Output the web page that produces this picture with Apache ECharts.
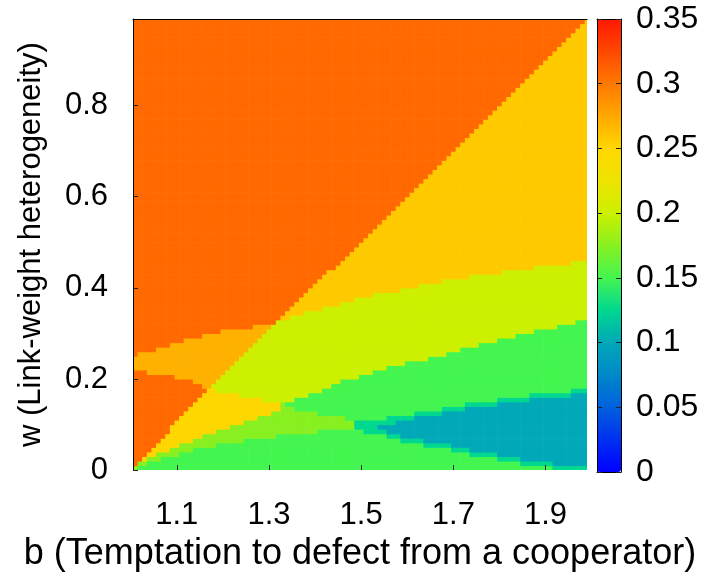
<!DOCTYPE html>
<html><head><meta charset="utf-8">
<script src="https://cdn.jsdelivr.net/npm/echarts@6/dist/echarts.min.js"></script>
<style>html,body{margin:0;padding:0;background:#fff}#c{width:710px;height:577px}</style>
</head><body><div id="c"></div>
<script>
// ---- axis ticks ----
const xTicks = [1.1, 1.3, 1.5, 1.7, 1.9];
const yTicks = [0, 0.2, 0.4, 0.6, 0.8];
const colorbarTicks = [0, 0.05, 0.1, 0.15, 0.2, 0.25, 0.3, 0.35];
const colorbarColors = ['#0000FF','#0030F0','#0060DD','#0088C8','#00A8B8','#00D890','#44F550',
  '#88F020','#CCF000','#EEE400','#FFD700','#FFA800','#FF7800','#FF4800','#FF1800'];

// ---- sampling grid of the simulation (cell centres) ----
const bFirst = 1.01, bStep = 0.01, bCount = 99;
const wFirst = 0.005, wStep = 0.01, wCount = 99;

// ---- phase regions: [b, w] vertices, painted in order ----
const backgroundValue = 0.15;
const lightGreenBand = [[1.0,0.0],[1.0,0.1],[1.3168,0.16],[1.3602,0.1318],[1.4324,0.1209],[1.4903,0.1099],[1.50,0.1027],[1.4903,0.0874],[1.4107,0.0852],[1.3239,0.0765],[1.2371,0.0634],[1.1504,0.0481],[1.0853,0.0306],[1.0202,0.0087],[1.01,0.0]];
const lightGreenValue = 0.175;
const tealEdge = [[1.489,0.109],[1.53,0.110],[1.60,0.122],[1.66,0.133],[1.72,0.144],[1.80,0.155],[1.87,0.165],[1.95,0.174],[2.0,0.179],[2.0,-0.002],[1.9409,0.0],[1.888,0.009],[1.8294,0.018],[1.7796,0.027],[1.724,0.038],[1.6776,0.049],[1.6277,0.056],[1.5772,0.067],[1.5409,0.080],[1.489,0.088]];
const tealEdgeValue = 0.125;
const tealRegion = [[1.535,0.094],[1.5409,0.097],[1.60,0.112],[1.66,0.123],[1.72,0.134],[1.80,0.145],[1.87,0.155],[1.95,0.164],[2.0,0.169],[2.0,0.008],[1.9409,0.0103],[1.888,0.019],[1.8294,0.0278],[1.7796,0.0372],[1.724,0.0481],[1.6776,0.059],[1.6277,0.0662],[1.5772,0.0771],[1.5409,0.090]];
const tealValue = 0.1;
const yellowGreenRegion = [[1.1655,0.179],[1.322,0.328],[2.0,1.0],[2.0,0.334],[1.99,0.332],[1.903,0.3103],[1.7796,0.2819],[1.671,0.252],[1.5626,0.2266],[1.4541,0.194],[1.426,0.179],[1.3608,0.1574],[1.3304,0.1464],[1.317,0.151],[1.274,0.157],[1.2155,0.1683]];
const yellowGreenValue = 0.2;
const upperYellowRegion = [[1.322,0.328],[2.0,1.0],[2.0,1.0],[2.0,0.459],[1.99,0.459],[1.8164,0.4371],[1.671,0.4152],[1.5843,0.394],[1.5337,0.3868],[1.4903,0.3759],[1.4541,0.365],[1.4107,0.354],[1.3673,0.3431]];
const upperYellowValue = 0.2575;
const lowerYellowRegion = [[1.1655,0.179],[1.2155,0.1683],[1.274,0.157],[1.3168,0.151],[1.325,0.14],[1.3168,0.1283],[1.2155,0.0955],[1.1432,0.0699],[1.0707,0.0409],[1.0202,0.0153],[1.005,0.004],[1.0,0.0],[1.0,0.19]];
const lowerYellowValue = 0.25;
const amberWedge = [[1.0,0.2185],[1.0,0.249],[1.0701,0.271],[1.1287,0.2885],[1.2003,0.306],[1.274,0.3169],[1.3168,0.3256],[1.322,0.33],[1.1655,0.179],[1.129,0.197],[1.070,0.212]];
const amberValue = 0.27;
const upperOrangeRegion = [[1.0,1.0],[2.0,1.0],[1.322,0.328],[1.3168,0.3256],[1.274,0.3169],[1.2003,0.306],[1.1287,0.2885],[1.0701,0.271],[1.0,0.249]];
const lowerOrangeRegion = [[1.0,0.2185],[1.070,0.212],[1.129,0.197],[1.1655,0.179],[1.1432,0.1501],[1.1143,0.1209],[1.0853,0.0918],[1.0636,0.0627],[1.0382,0.0334],[1.013,0.0116],[1.0,0.0]];
const orangeValue = 0.308;

const layers = [
  [lightGreenBand, lightGreenValue], [tealEdge, tealEdgeValue], [tealRegion, tealValue],
  [yellowGreenRegion, yellowGreenValue], [upperYellowRegion, upperYellowValue],
  [lowerYellowRegion, lowerYellowValue], [amberWedge, amberValue],
  [upperOrangeRegion, orangeValue], [lowerOrangeRegion, orangeValue]
];

function inside(pt, poly) {
  let c = false;
  for (let i = 0, j = poly.length - 1; i < poly.length; j = i++) {
    const xi = poly[i][0], yi = poly[i][1], xj = poly[j][0], yj = poly[j][1];
    if ((yi > pt[1]) !== (yj > pt[1]) && pt[0] < (xj - xi) * (pt[1] - yi) / (yj - yi) + xi) c = !c;
  }
  return c;
}

const cells = [];
for (let i = 0; i < bCount; i++) {
  const b = +(bFirst + i * bStep).toFixed(3);
  for (let j = 0; j < wCount; j++) {
    const w = +(wFirst + j * wStep).toFixed(3);
    let v = backgroundValue;
    for (const [poly, val] of layers) if (inside([b, w], poly)) v = val;
    cells.push([b, w, v]);
  }
}

const FONT = 'Liberation Sans';
const TICK_FS = 31;
const chart = echarts.init(document.getElementById('c'), null, {renderer: 'canvas'});
chart.setOption({
  animation: false,
  grid: [
    {left: 133, top: 19, width: 454, height: 453, show: false},
    {left: 597, top: 19, width: 24, height: 453, show: false}
  ],
  xAxis: [
    {type: 'value', gridIndex: 0, min: 1.005, max: 1.99, position: 'bottom', z: 10,
     splitLine: {show: false}, axisLine: {show: false},
     axisTick: {show: true, inside: true, length: 5, customValues: xTicks, lineStyle: {color: '#222', width: 1}},
     axisLabel: {show: true, customValues: xTicks, margin: 30, fontSize: TICK_FS, fontFamily: FONT, color: '#000',
       formatter: v => String(v)},
     name: 'b (Temptation to defect from a cooperator)', nameLocation: 'middle', nameGap: 55,
     nameTextStyle: {fontSize: 36, fontFamily: FONT, color: '#000'}},
    {type: 'value', gridIndex: 0, min: 1.005, max: 1.99, position: 'top', z: 10,
     splitLine: {show: false}, axisTick: {show: false}, axisLabel: {show: false},
     axisLine: {show: true, onZero: false, lineStyle: {color: '#000', width: 1}}},
    {type: 'value', gridIndex: 1, min: 0, max: 1, position: 'bottom', z: 10,
     splitLine: {show: false}, axisTick: {show: false}, axisLabel: {show: false},
     axisLine: {show: true, onZero: false, lineStyle: {color: '#000', width: 1}}},
    {type: 'value', gridIndex: 1, min: 0, max: 1, position: 'top', z: 10,
     splitLine: {show: false}, axisTick: {show: false}, axisLabel: {show: false},
     axisLine: {show: true, onZero: false, lineStyle: {color: '#000', width: 1}}}
  ],
  yAxis: [
    {type: 'value', gridIndex: 0, min: 0, max: 0.99, position: 'left', z: 10,
     splitLine: {show: false},
     axisLine: {show: true, onZero: false, lineStyle: {color: '#000', width: 1}},
     axisTick: {show: true, inside: true, length: 5, customValues: yTicks, lineStyle: {color: '#222', width: 1}},
     axisLabel: {show: true, customValues: yTicks, margin: 25, fontSize: TICK_FS, fontFamily: FONT, color: '#000',
       formatter: v => String(v)},
     name: 'w (Link-weight heterogeneity)', nameLocation: 'middle', nameGap: 86,
     nameTextStyle: {fontSize: 31, fontFamily: FONT, color: '#000'}},
    {type: 'value', gridIndex: 1, min: 0, max: 0.35, interval: 0.05, position: 'right', z: 10,
     splitLine: {show: false},
     axisLine: {show: true, onZero: false, lineStyle: {color: '#000', width: 1}},
     axisTick: {show: true, inside: true, length: 5, lineStyle: {color: '#222', width: 1}},
     axisLabel: {show: true, margin: 15, fontSize: 32, fontFamily: FONT, color: '#000'}},
    {type: 'value', gridIndex: 1, min: 0, max: 0.35, interval: 0.05, position: 'left', z: 10,
     splitLine: {show: false},
     axisLine: {show: true, onZero: false, lineStyle: {color: '#000', width: 1}},
     axisTick: {show: true, inside: true, length: 5, lineStyle: {color: '#222', width: 1}},
     axisLabel: {show: false}}
  ],
  visualMap: {
    type: 'continuous', min: 0, max: 0.35, dimension: 2, seriesIndex: 0,
    calculable: false, realtime: false, hoverLink: false, orient: 'vertical',
    left: 597, top: 19, itemWidth: 24, itemHeight: 453, padding: 0,
    inRange: {color: colorbarColors}, textStyle: {fontSize: 0}
  },
  series: [{
    type: 'custom', xAxisIndex: 0, yAxisIndex: 0, clip: true, z: 2, progressive: 0,
    encode: {x: 0, y: 1},
    data: cells,
    renderItem: function (params, api) {
      const b = api.value(0), w = api.value(1);
      const p0 = api.coord([b - bStep / 2, w + wStep / 2]);
      const p1 = api.coord([b + bStep / 2, w - wStep / 2]);
      const clipped = echarts.graphic.clipRectByRect({
        x: p0[0], y: p0[1], width: p1[0] - p0[0] + 0.6, height: p1[1] - p0[1] + 0.6
      }, {x: params.coordSys.x, y: params.coordSys.y, width: params.coordSys.width, height: params.coordSys.height});
      if (!clipped) return null;
      return {type: 'rect', shape: clipped, style: {fill: api.visual('color')}};
    }
  }]
});
</script></body></html>
